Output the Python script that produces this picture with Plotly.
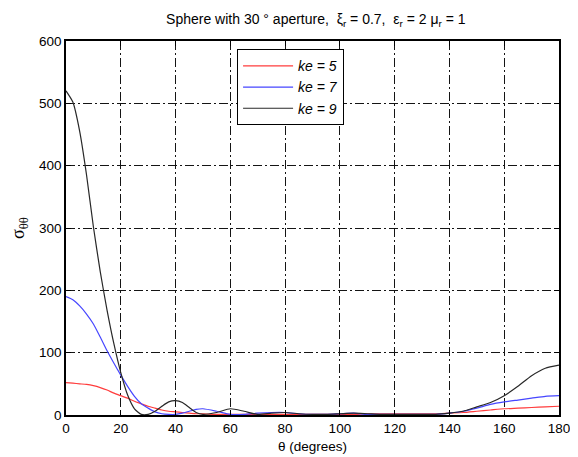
import plotly.graph_objects as go

theta = [0, 2.5, 5, 7.5, 10, 12.5, 15, 17.5, 20, 22.5, 25, 27.5, 30, 32.5, 35, 37.5,
         40, 42.5, 45, 47.5, 50, 55, 60, 65, 70, 75, 80, 85, 90, 95, 100, 105, 110,
         115, 120, 125, 130, 135, 140, 145, 150, 155, 160, 165, 170, 175, 180]

ke5 = [52, 51, 50, 49, 47, 44, 40, 35, 31, 27, 22, 18, 14, 11, 8, 6,
       5, 4, 3, 2, 2, 1, 1, 1, 1, 1, 1, 1, 1, 1, 1, 1, 2,
       2, 2, 2, 2, 2, 3, 4, 6, 8, 10, 11, 12, 13, 14]

ke7 = [190, 185, 175, 162, 146, 125, 103, 83, 64, 46, 30, 18, 11, 5, 2, 1,
       1, 3, 6, 9, 10, 6, 1, 1, 3, 4, 4, 2, 1, 1, 2, 3, 1,
       1, 1, 1, 1, 1, 3, 6, 11, 17, 21, 24, 27, 30, 31]

ke9 = [520, 502, 455, 385, 302, 230, 168, 114, 68, 32, 10, 1, 1, 6, 14, 21,
       23, 20, 12, 4, 1, 4, 10, 6, 1, 3, 4, 2, 1, 1, 2, 3, 2,
       1, 1, 1, 1, 1, 3, 6, 13, 20, 31, 46, 63, 75, 80]

series = [("ke = 5", ke5, "rgb(255,60,60)"),
          ("ke = 7", ke7, "rgb(70,70,255)"),
          ("ke = 9", ke9, "rgb(40,40,40)")]

x_ticks = [0, 20, 40, 60, 80, 100, 120, 140, 160, 180]
y_ticks = [0, 100, 200, 300, 400, 500, 600]

fig = go.Figure()
for name, vals, col in series:
    fig.add_trace(go.Scatter(x=theta, y=vals, mode="lines", name=name,
                             line=dict(color=col, width=1.2, shape="spline", smoothing=0.6)))

axis_common = dict(showline=True, mirror="ticks", linecolor="black", linewidth=1.5,
                   ticks="inside", ticklen=5, tickcolor="black", automargin=False,
                   showgrid=True, gridcolor="rgb(20,20,20)", gridwidth=1.4,
                   griddash="9px,3px,2px,3px", zeroline=False,
                   tickfont=dict(family="Liberation Sans, Arial", size=13.5, color="black"))

fig.update_xaxes(range=[0, 180], tickvals=x_ticks, **axis_common,
                 title=dict(text="θ (degrees)", standoff=7,
                            font=dict(family="Liberation Sans, Arial", size=13.5, color="black")))
fig.update_yaxes(range=[0, 600], tickvals=y_ticks, **axis_common,
                 title=dict(text="σ<sub>θθ</sub>", standoff=14,
                            font=dict(family="Liberation Serif, Times New Roman", size=18, color="black")))

# page body has an 8px margin, so the figure is shifted by 8px
W, H = 570, 449
fig.update_layout(
    width=W, height=H,
    margin=dict(l=58, r=19, t=33, b=42),
    paper_bgcolor="white", plot_bgcolor="white",
    title=dict(text="Sphere with 30 ° aperture,  ξ<sub>r</sub> = 0.7,  ε<sub>r</sub> = 2 μ<sub>r</sub> = 1",
               x=0.54, xanchor="center", y=1 - 11/H, yref="container", yanchor="middle",
               font=dict(family="Liberation Sans, Arial", size=14, color="black")),
    legend=dict(x=0.347, y=0.978, xanchor="left", yanchor="top",
                bgcolor="white", bordercolor="black", borderwidth=1,
                itemwidth=50, tracegroupgap=0,
                font=dict(family="Liberation Sans, Arial", size=14, color="black", style="italic")),
    showlegend=True,
)

fig.write_html("out.html")
